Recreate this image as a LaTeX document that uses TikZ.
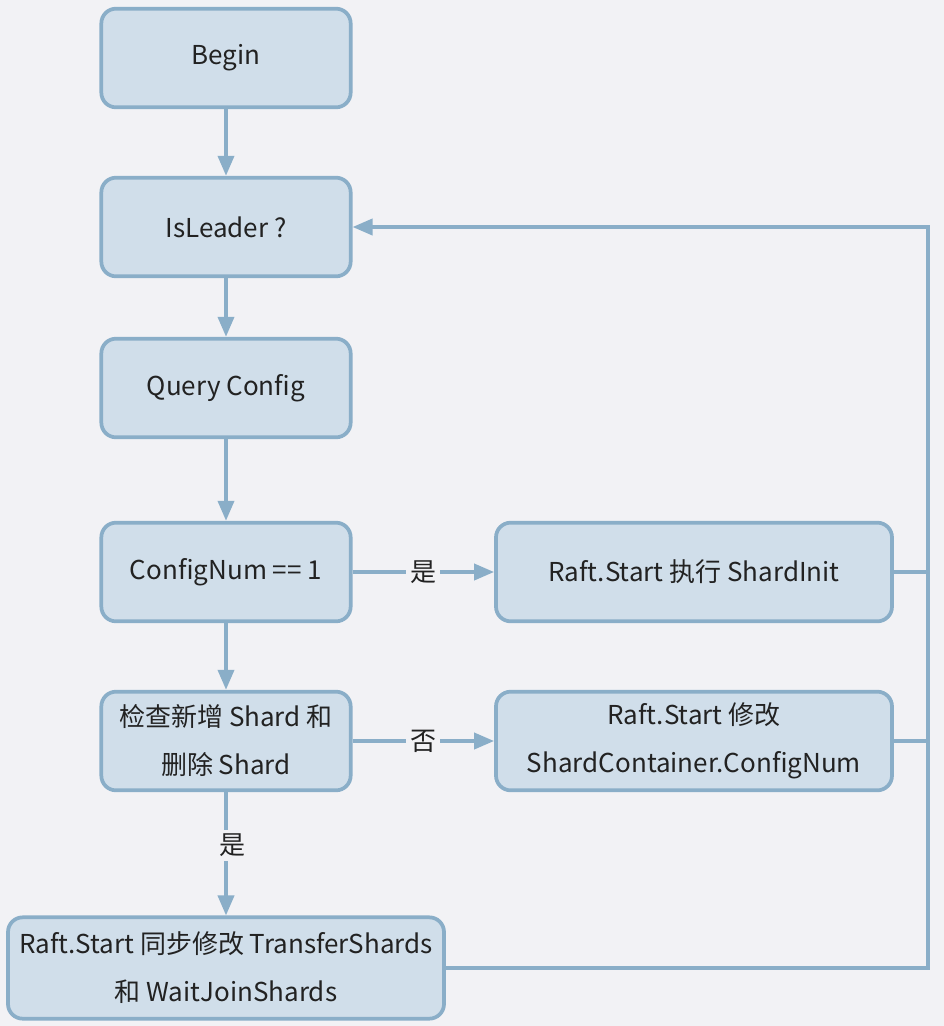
\documentclass[tikz,border=0pt]{standalone}
\usepackage{fontspec}
\setmainfont{Noto Sans CJK SC}
\usetikzlibrary{arrows.meta}
\definecolor{boxfill}{HTML}{D0DEEA}
\definecolor{boxline}{HTML}{8AAEC8}
\definecolor{bgcolor}{HTML}{F2F2F5}
\definecolor{txtcolor}{HTML}{222222}

\begin{document}
\begin{tikzpicture}[x=0.75pt,y=-0.75pt,font=\fontsize{19.5}{36}\selectfont]
    \tikzstyle{flow box}=[rectangle,rounded corners=11pt,draw=boxline,line width=2.8pt,fill=boxfill,text=txtcolor,align=center,minimum width=187pt,minimum height=74pt,inner sep=2pt]
    \tikzstyle{wide box}=[flow box,minimum width=297pt]
    \tikzstyle{flow line}=[draw=boxline,line width=2.8pt]
    \tikzstyle{flow arrow}=[flow line,-{Triangle[length=15pt,width=12pt]}]
    \tikzstyle{flow label}=[fill=bgcolor,text=txtcolor,inner sep=3pt]

    \useasboundingbox (0,0) rectangle (944,1026);
    \fill[bgcolor] (0,0) rectangle (944,1026);

    \node[flow box] (begin) at (226,58) {Begin};
    \node[flow box] (leader) at (226,227) {IsLeader ?};
    \node[flow box] (query) at (226,388) {Query Config};
    \node[flow box] (confnum) at (226,572) {ConfigNum == 1};
    \node[flow box] (check) at (226,741) {检查新增 Shard 和\\删除 Shard};
    \node[wide box] (init) at (694,572) {Raft.Start 执行 ShardInit};
    \node[wide box] (modify) at (694,741) {Raft.Start 修改\\ShardContainer.ConfigNum};
    \node[flow box,minimum width=327pt,minimum height=76pt] (sync) at (226,968) {Raft.Start 同步修改 TransferShards\\和 WaitJoinShards};
    \coordinate (loop) at (928,227);

    \draw[flow arrow] (begin) -- (leader);
    \draw[flow arrow] (leader) -- (query);
    \draw[flow arrow] (query) -- (confnum);
    \draw[flow arrow] (confnum) -- (check);
    \draw[flow arrow] (confnum) -- node[flow label]{是} (init);
    \draw[flow arrow] (check) -- node[flow label]{否} (modify);
    \draw[flow arrow] (check) -- node[flow label,pos=0.43,xshift=5pt]{是} (sync);
    \draw[flow arrow] (sync.east) -| (loop) -- (leader.east);
    \draw[flow line] (init.east) -- (init.east -| loop);
    \draw[flow line] (modify.east) -- (modify.east -| loop);
\end{tikzpicture}
\end{document}
